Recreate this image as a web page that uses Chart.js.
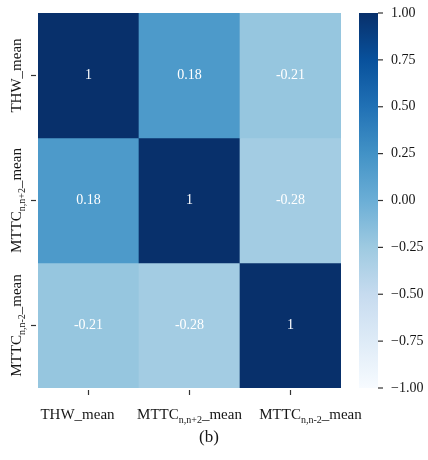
<!DOCTYPE html>
<html>
<head>
<meta charset="utf-8">
<script src="https://cdn.jsdelivr.net/npm/chart.js@4.4.1/dist/chart.umd.min.js"></script>
<style>
  html, body { margin: 0; padding: 0; background: #fff; }
  #wrap { position: relative; width: 428px; height: 460px; }
  #heat { position: absolute; left: 0; top: 0; }
  #cbar { position: absolute; left: 340px; top: 0; }
  #caption { position: absolute; left: 0; width: 418px; top: 427px; line-height: 20px;
             text-align: center; font: 17px 'Liberation Serif', 'Times New Roman', serif; color: #151515; }
</style>
</head>
<body>
<div id="wrap">
  <canvas id="heat" width="428" height="460"></canvas>
  <canvas id="cbar" width="88" height="460"></canvas>
  <div id="caption">(b)</div>
</div>
<script>
// Variable names; text inside {...} is set as a subscript.
const categories = ['THW_mean', 'MTTC{n,n+2}_mean', 'MTTC{n,n-2}_mean'];

// Correlation matrix, one array per row.
const rowTHW   = [1, 0.18, -0.21];
const rowMTTCp = [0.18, 1, -0.28];
const rowMTTCm = [-0.21, -0.28, 1];

// Colour-bar range and tick values.
const vmin = -1, vmax = 1;
const colorbarTicks = [1, 0.75, 0.5, 0.25, 0, -0.25, -0.5, -0.75, -1];

// ---- styling ----
const SERIF = "'Liberation Serif', 'Times New Roman', serif";
const TEXT = '#161616';
const BLUES = ['#f7fbff', '#deebf7', '#c6dbef', '#9ecae1', '#6baed6',
               '#4292c6', '#2171b5', '#08519c', '#08306b'];
const xLabelNudge = [-11, 0, 20];

function hexToRgb(h) {
  return [parseInt(h.slice(1, 3), 16), parseInt(h.slice(3, 5), 16), parseInt(h.slice(5, 7), 16)];
}
function blues(v) {
  let t = (v - vmin) / (vmax - vmin);
  t = Math.max(0, Math.min(1, t));
  const pos = t * (BLUES.length - 1);
  const i = Math.min(BLUES.length - 2, Math.floor(pos));
  const f = pos - i;
  const a = hexToRgb(BLUES[i]), b = hexToRgb(BLUES[i + 1]);
  const c = a.map((x, k) => Math.round(x + (b[k] - x) * f));
  return `rgb(${c[0]},${c[1]},${c[2]})`;
}

function splitRich(str) {
  const parts = [];
  const re = /\{([^}]*)\}/g;
  let last = 0, m;
  while ((m = re.exec(str))) {
    if (m.index > last) parts.push({ t: str.slice(last, m.index), sub: false });
    parts.push({ t: m[1], sub: true });
    last = re.lastIndex;
  }
  if (last < str.length) parts.push({ t: str.slice(last), sub: false });
  return parts;
}
// Draws a label centred on cx with its baseline at the given y.
function drawRich(ctx, str, cx, baseline, size) {
  const parts = splitRich(str);
  const mainF = `${size}px ${SERIF}`, subF = `${Math.round(size * 0.66)}px ${SERIF}`;
  let w = 0;
  parts.forEach(p => { ctx.font = p.sub ? subF : mainF; p.w = ctx.measureText(p.t).width; w += p.w; });
  let x = cx - w / 2;
  ctx.textAlign = 'left';
  ctx.textBaseline = 'alphabetic';
  parts.forEach(p => {
    ctx.font = p.sub ? subF : mainF;
    ctx.fillText(p.t, x, baseline + (p.sub ? size * 0.28 : 0));
    x += p.w;
  });
}

const rows = [rowTHW, rowMTTCp, rowMTTCm];
const datasets = rows.map((vals, r) => ({
  label: categories[r],
  data: vals.map((v, c) => ({ x: categories[c], y: [r, r + 1], v: v })),
  backgroundColor: vals.map(blues),
  borderWidth: 0,
  barPercentage: 1,
  categoryPercentage: 1,
  grouped: false
}));

const heatText = {
  id: 'heatText',
  afterDatasetsDraw(chart) {
    const ctx = chart.ctx;
    ctx.save();
    ctx.fillStyle = '#ffffff';
    ctx.font = `14px ${SERIF}`;
    ctx.textAlign = 'center';
    ctx.textBaseline = 'middle';
    chart.data.datasets.forEach((ds, di) => {
      chart.getDatasetMeta(di).data.forEach((el, i) => {
        const v = ds.data[i].v;
        const s = Number.isInteger(v) ? String(v) : v.toFixed(2);
        ctx.fillText(s, el.x, (el.y + el.base) / 2);
      });
    });
    ctx.restore();
  },
  afterDraw(chart) {
    const ctx = chart.ctx, xs = chart.scales.x, ys = chart.scales.y;
    const area = chart.chartArea;
    ctx.save();
    ctx.strokeStyle = '#333';
    ctx.lineWidth = 1.2;
    ctx.fillStyle = TEXT;
    categories.forEach((name, i) => {
      // x axis tick + label
      const px = xs.getPixelForValue(i);
      ctx.beginPath();
      ctx.moveTo(px, area.bottom + 2);
      ctx.lineTo(px, area.bottom + 7);
      ctx.stroke();
      drawRich(ctx, name, px + xLabelNudge[i], area.bottom + 31, 15);
      // y axis tick + rotated label
      const py = ys.getPixelForValue(i + 0.5);
      ctx.beginPath();
      ctx.moveTo(area.left - 7, py);
      ctx.lineTo(area.left - 2, py);
      ctx.stroke();
      ctx.save();
      ctx.translate(area.left - 17, py);
      ctx.rotate(-Math.PI / 2);
      drawRich(ctx, name, 0, 0, 15);
      ctx.restore();
    });
    ctx.restore();
  }
};

new Chart(document.getElementById('heat'), {
  type: 'bar',
  data: { labels: categories, datasets: datasets },
  options: {
    responsive: false,
    animation: false,
    layout: { padding: { left: 38, right: 87, top: 13, bottom: 72 } },
    plugins: { legend: { display: false }, tooltip: { enabled: false } },
    scales: {
      x: { type: 'category', display: false, offset: true },
      y: { type: 'linear', display: false, min: 0, max: 3, reverse: true }
    }
  },
  plugins: [heatText]
});

// ---- colour bar ----
const cbTicks = {
  id: 'cbTicks',
  afterDraw(chart) {
    const ctx = chart.ctx, ys = chart.scales.y, area = chart.chartArea;
    ctx.save();
    ctx.strokeStyle = '#333';
    ctx.lineWidth = 1.2;
    ctx.fillStyle = TEXT;
    ctx.font = `14px ${SERIF}`;
    ctx.textAlign = 'left';
    ctx.textBaseline = 'middle';
    colorbarTicks.forEach(t => {
      const py = ys.getPixelForValue(t);
      ctx.beginPath();
      ctx.moveTo(area.right, py);
      ctx.lineTo(area.right + 5, py);
      ctx.stroke();
      const s = (t < 0 ? '\u2212' : '') + Math.abs(t).toFixed(2);
      ctx.fillText(s, area.right + 13, py);
    });
    ctx.restore();
  }
};

new Chart(document.getElementById('cbar'), {
  type: 'bar',
  data: {
    labels: ['r'],
    datasets: [{
      data: [[vmin, vmax]],
      borderWidth: 0,
      barPercentage: 1,
      categoryPercentage: 1,
      backgroundColor(context) {
        const chart = context.chart;
        const ys = chart.scales.y;
        if (!chart.chartArea || !ys) return BLUES[4];
        const g = chart.ctx.createLinearGradient(0, ys.getPixelForValue(vmin), 0, ys.getPixelForValue(vmax));
        BLUES.forEach((c, i) => g.addColorStop(i / (BLUES.length - 1), c));
        return g;
      }
    }]
  },
  options: {
    responsive: false,
    animation: false,
    layout: { padding: { left: 19, right: 50, top: 13, bottom: 72 } },
    plugins: { legend: { display: false }, tooltip: { enabled: false } },
    scales: {
      x: { type: 'category', display: false, offset: true },
      y: { type: 'linear', display: false, min: vmin, max: vmax }
    }
  },
  plugins: [cbTicks]
});
</script>
</body>
</html>
